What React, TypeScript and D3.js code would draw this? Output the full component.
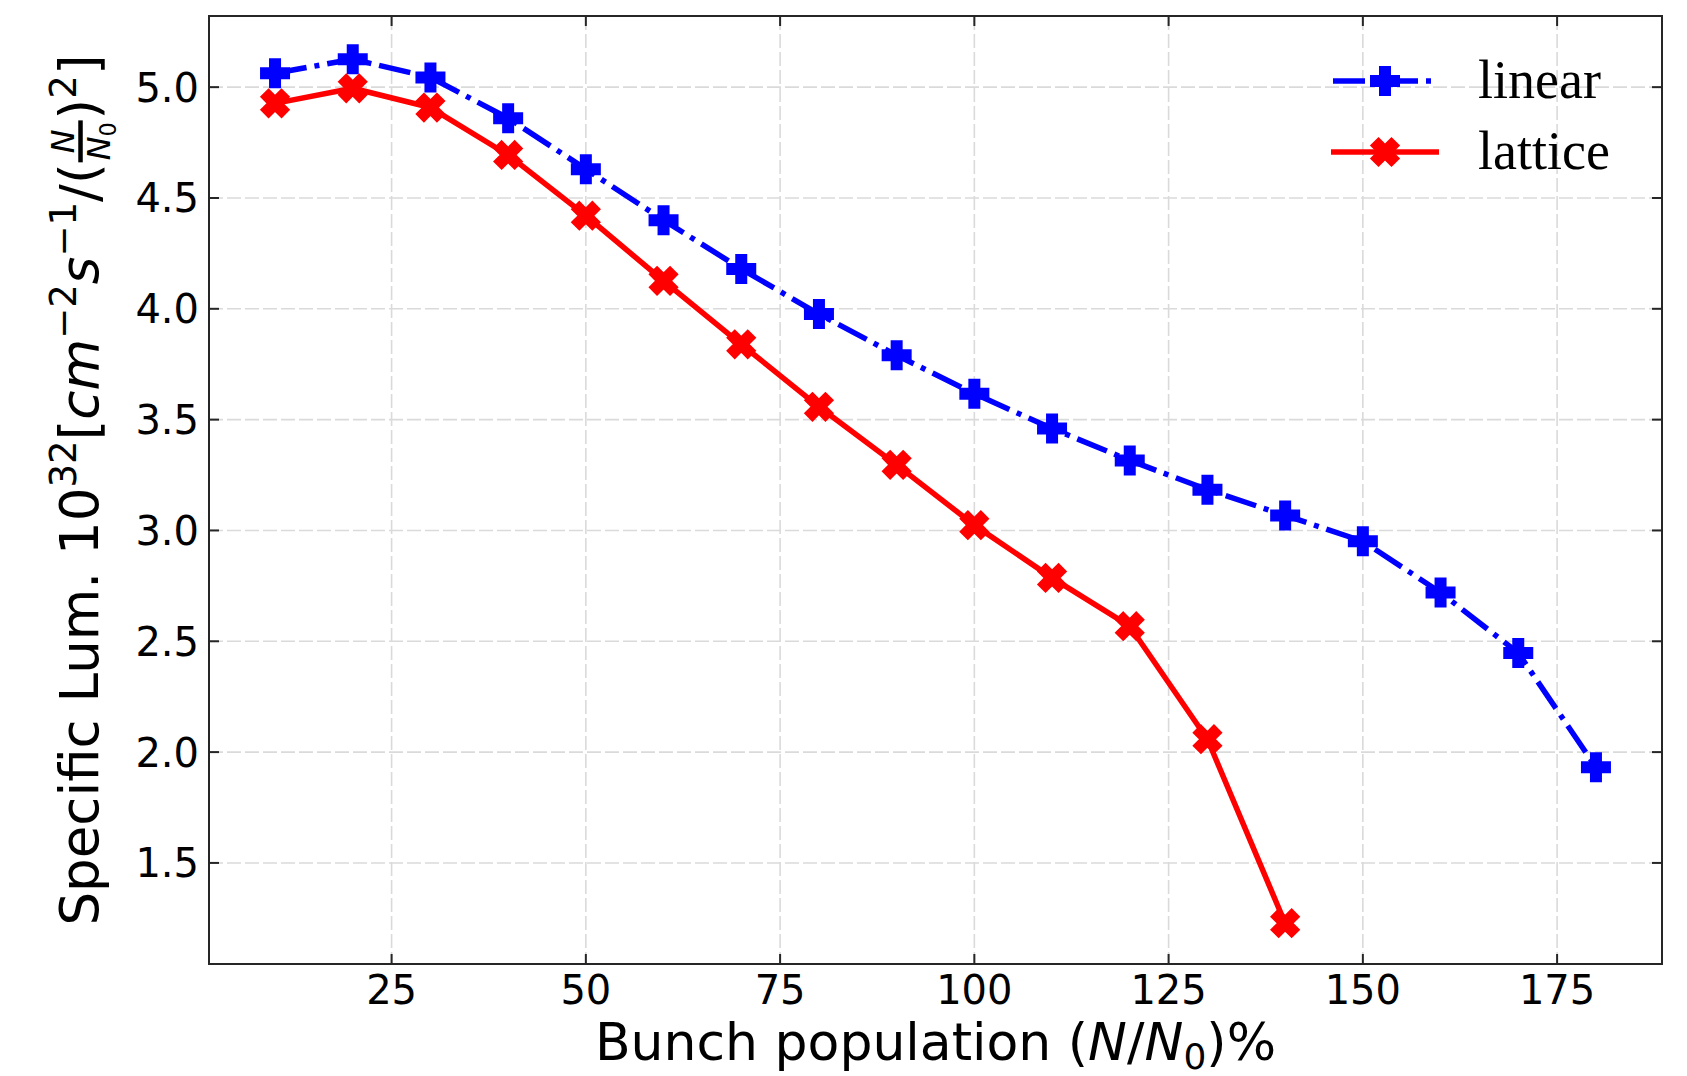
import React, { useEffect, useRef } from "react";
import * as d3 from "d3";

// ---- data ----
const linearPop = [10, 20, 30, 40, 50, 60, 70, 80, 90, 100, 110, 120, 130, 140, 150, 160, 170, 180];
const linearLum = [5.063, 5.126, 5.044, 4.86, 4.63, 4.40, 4.18, 3.976, 3.79, 3.617, 3.46, 3.316, 3.184, 3.068, 2.951, 2.72, 2.447, 1.932];
const latticePop = [10, 20, 30, 40, 50, 60, 70, 80, 90, 100, 110, 120, 130, 140];
const latticeLum = [4.927, 4.995, 4.908, 4.694, 4.42, 4.126, 3.84, 3.558, 3.296, 3.024, 2.786, 2.568, 2.058, 1.228];
const xTicks = [25, 50, 75, 100, 125, 150, 175];
const yTicks = [1.5, 2.0, 2.5, 3.0, 3.5, 4.0, 4.5, 5.0];
const legendLabels = ["linear", "lattice"];

const W = 1687;
const H = 1076;
const L = 209, R = 1662, T = 16, B = 964;

const x = d3.scaleLinear().domain([1.5, 188.5]).range([L, R]);
const y = d3.scaleLinear().domain([1.044, 5.321]).range([B, T]);

const BLUE = "#0000ff";
const RED = "#ff0000";

function plusPath(m: number) {
  const pts = [[-1, -3], [1, -3], [1, -1], [3, -1], [3, 1], [1, 1], [1, 3], [-1, 3], [-1, 1], [-3, 1], [-3, -1], [-1, -1]];
  return "M" + pts.map(([a, b]) => `${(a * m) / 6},${(b * m) / 6}`).join("L") + "Z";
}
function xPath(m: number) {
  const pts = [[-1, -2], [0, -1], [1, -2], [2, -1], [1, 0], [2, 1], [1, 2], [0, 1], [-1, 2], [-2, 1], [-1, 0], [-2, -1]];
  return "M" + pts.map(([a, b]) => `${(a * m) / 4},${(b * m) / 4}`).join("L") + "Z";
}

const PLUS = plusPath(27);
const XM = xPath(26);

export default function App() {
  const ylabRef = useRef<SVGGElement>(null);

  useEffect(() => {
    const g = d3.select(ylabRef.current);
    g.selectAll("*").remove();
    const fs = 53;
    const sfs = fs * 0.7;
    const up = fs * 0.42;
    const inner = g.append("g");
    const t = inner
      .append("text")
      .attr("font-family", "DejaVu Sans")
      .attr("font-size", fs)
      .attr("fill", "#000")
      .attr("x", 0)
      .attr("y", 0);
    t.append("tspan").text("Specific Lum. 10");
    t.append("tspan").attr("font-size", sfs).attr("dy", -up).text("32");
    t.append("tspan").attr("font-size", fs).attr("dy", up).text("[");
    t.append("tspan").attr("font-style", "italic").text("cm");
    t.append("tspan").attr("font-size", sfs).attr("dy", -up).text("\u22122");
    t.append("tspan").attr("font-size", fs).attr("dy", up).attr("font-style", "italic").text("s");
    t.append("tspan").attr("font-size", sfs).attr("dy", -up).text("\u22121");
    t.append("tspan").attr("font-size", fs).attr("dy", up).text("/(");
    const w1 = (t.node() as SVGTextElement).getComputedTextLength();

    // fraction N / N0
    const ffs = fs * 0.6;
    const num = inner
      .append("text")
      .attr("font-family", "DejaVu Sans")
      .attr("font-size", ffs)
      .attr("font-style", "italic")
      .text("N");
    const den = inner
      .append("text")
      .attr("font-family", "DejaVu Sans")
      .attr("font-size", ffs)
      .attr("font-style", "italic");
    den.append("tspan").text("N");
    den.append("tspan").attr("font-style", "normal").attr("font-size", ffs * 0.7).attr("dy", ffs * 0.2).text("0");
    const nw = (num.node() as SVGTextElement).getComputedTextLength();
    const dw = (den.node() as SVGTextElement).getComputedTextLength();
    const pad = 3;
    const fw = Math.max(nw, dw) + 2 * pad;
    const barY = -fs * 0.33;
    const barTh = 4.5;
    num.attr("x", w1 + (fw - nw) / 2).attr("y", barY - barTh / 2 - 4);
    den.attr("x", w1 + (fw - dw) / 2).attr("y", barY + barTh / 2 + 4 + ffs * 0.73);
    inner
      .append("rect")
      .attr("x", w1 + 1)
      .attr("y", barY - barTh / 2)
      .attr("width", fw - 2)
      .attr("height", barTh)
      .attr("fill", "#000");

    const t2 = inner
      .append("text")
      .attr("font-family", "DejaVu Sans")
      .attr("font-size", fs)
      .attr("fill", "#000")
      .attr("x", w1 + fw)
      .attr("y", 0);
    t2.append("tspan").text(")");
    t2.append("tspan").attr("font-size", sfs).attr("dy", -up).text("2");
    t2.append("tspan").attr("font-size", fs).attr("dy", up).text("]");
    const w2 = (t2.node() as SVGTextElement).getComputedTextLength();
    const total = w1 + fw + w2;
    inner.attr("transform", `translate(${-total / 2},0)`);
  }, []);

  const linePath = d3
    .line<number>()
    .x((_, i) => x(linearPop[i]))
    .y((d) => y(d));
  const latPath = d3
    .line<number>()
    .x((_, i) => x(latticePop[i]))
    .y((d) => y(d));

  const tickLen = 10;
  const legY = [81, 152];

  return (
    <svg
      width={W}
      height={H}
      viewBox={`0 0 ${W} ${H}`}
      style={{ position: "absolute", left: 0, top: 0, background: "#fff" }}
    >
      <rect x={0} y={0} width={W} height={H} fill="#fff" />
      {/* grid */}
      <g stroke="#dadada" strokeWidth={1.6} strokeDasharray="14,4">
        {xTicks.map((t) => (
          <line key={"gx" + t} x1={x(t)} x2={x(t)} y1={T} y2={B} />
        ))}
        {yTicks.map((t) => (
          <line key={"gy" + t} x1={L} x2={R} y1={y(t)} y2={y(t)} />
        ))}
      </g>

      {/* data lines */}
      <path
        d={linePath(linearLum) || ""}
        fill="none"
        stroke={BLUE}
        strokeWidth={5.5}
        strokeDasharray="32,8,5,8"
        strokeLinejoin="round"
      />
      <path d={latPath(latticeLum) || ""} fill="none" stroke={RED} strokeWidth={5.5} strokeLinejoin="round" />
      {linearLum.map((v, i) => (
        <path
          key={"pl" + i}
          d={PLUS}
          transform={`translate(${x(linearPop[i])},${y(v)})`}
          fill={BLUE}
          stroke={BLUE}
          strokeWidth={3}
        />
      ))}
      {latticeLum.map((v, i) => (
        <path
          key={"px" + i}
          d={XM}
          transform={`translate(${x(latticePop[i])},${y(v)})`}
          fill={RED}
          stroke={RED}
          strokeWidth={3}
        />
      ))}

      {/* frame */}
      <rect x={L} y={T} width={R - L} height={B - T} fill="none" stroke="#262626" strokeWidth={2} />
      {/* ticks inward on all sides */}
      <g stroke="#262626" strokeWidth={2}>
        {xTicks.map((t) => (
          <g key={"tx" + t}>
            <line x1={x(t)} x2={x(t)} y1={B} y2={B - tickLen} />
            <line x1={x(t)} x2={x(t)} y1={T} y2={T + tickLen} />
          </g>
        ))}
        {yTicks.map((t) => (
          <g key={"ty" + t}>
            <line x1={L} x2={L + tickLen} y1={y(t)} y2={y(t)} />
            <line x1={R} x2={R - tickLen} y1={y(t)} y2={y(t)} />
          </g>
        ))}
      </g>

      {/* tick labels */}
      <g fontFamily="DejaVu Sans" fontSize={40} fill="#000">
        {xTicks.map((t) => (
          <text key={"lx" + t} x={x(t)} y={1004} textAnchor="middle">
            {d3.format("d")(t)}
          </text>
        ))}
        {yTicks.map((t) => (
          <text key={"ly" + t} x={199} y={y(t) + 14.5} textAnchor="end">
            {d3.format(".1f")(t)}
          </text>
        ))}
      </g>

      {/* x label */}
      <text x={(L + R) / 2} y={1060} textAnchor="middle" fontFamily="DejaVu Sans" fontSize={52} fill="#000">
        Bunch population (<tspan fontStyle="italic">N</tspan>/<tspan fontStyle="italic">N</tspan>
        <tspan fontSize={36} dy={9}>0</tspan>
        <tspan dy={-9}>)%</tspan>
      </text>

      {/* y label */}
      <g transform={`translate(98,${(T + B) / 2}) rotate(-90)`}>
        <g ref={ylabRef} />
      </g>

      {/* legend */}
      <g>
        <line x1={1333} x2={1437} y1={legY[0]} y2={legY[0]} stroke={BLUE} strokeWidth={5.5} strokeDasharray="32,8,5,8" />
        <path d={PLUS} transform={`translate(1385,${legY[0]})`} fill={BLUE} stroke={BLUE} strokeWidth={3} />
        <line x1={1331} x2={1439} y1={legY[1]} y2={legY[1]} stroke={RED} strokeWidth={5.5} />
        <path d={XM} transform={`translate(1385,${legY[1]})`} fill={RED} stroke={RED} strokeWidth={3} />
        {legendLabels.map((s, i) => (
          <text key={s} x={1478} y={legY[i] + 17} fontFamily="Liberation Serif" fontSize={54} fill="#000">
            {s}
          </text>
        ))}
      </g>
    </svg>
  );
}
